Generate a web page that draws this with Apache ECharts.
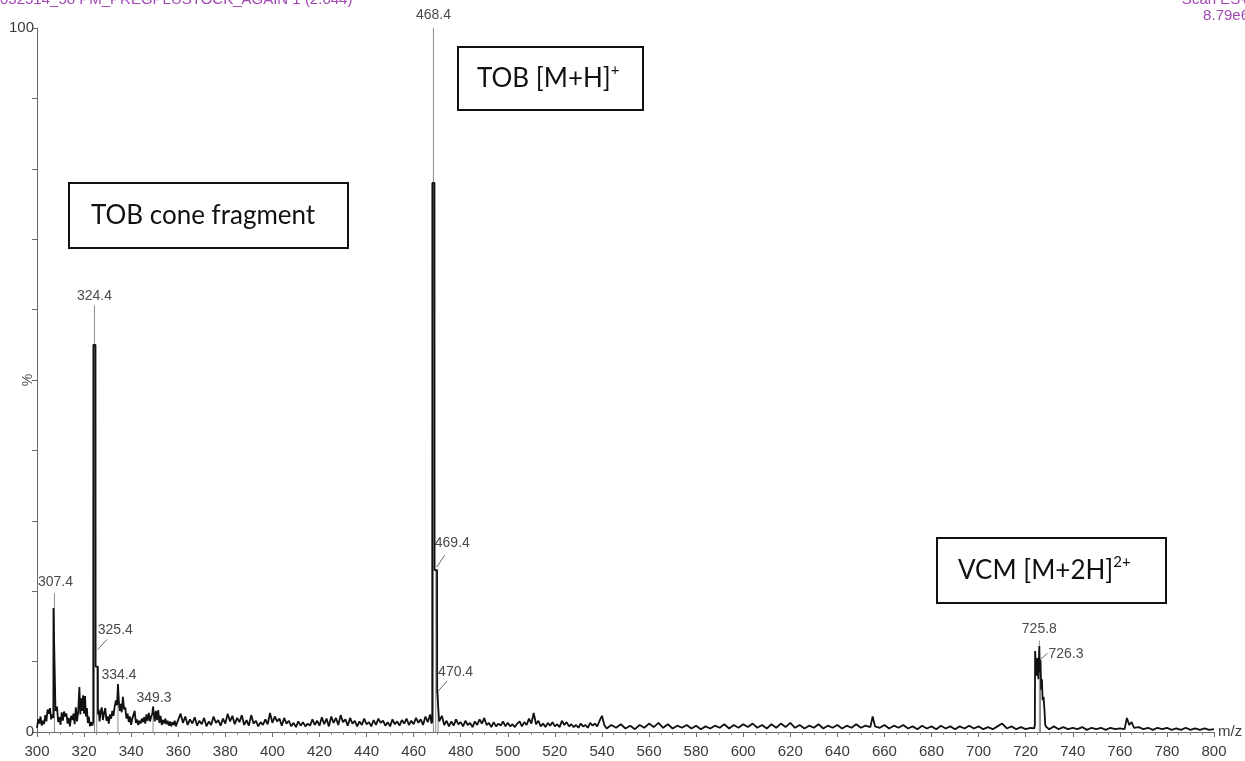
<!DOCTYPE html>
<html>
<head>
<meta charset="utf-8">
<title>ES+ mass spectrum</title>
<script src="https://cdn.jsdelivr.net/npm/echarts@6/dist/echarts.min.js"></script>
<style>
  html, body { margin: 0; padding: 0; background: #ffffff; }
  #chart { width: 1245px; height: 761px; }
</style>
</head>
<body>
<div id="chart"></div>
<script>
// ---- Spectrum profile, m/z vs relative intensity (%) ----
const lowMassProfile = [
  [300.0,0.6],[300.5,1.8],[301.0,1.2],[301.5,2.2],[302.0,0.9],[302.5,1.6],[303.0,1.1],[303.5,2.4],
  [304.0,1.5],[304.5,3.2],[305.0,2.6],[305.5,3.4],[306.0,1.8],[306.5,2.5],[306.95,2.0],[307.0,17.6],
  [307.8,17.6],[307.85,3.0],[308.5,3.6],[309.0,1.4],[309.5,2.1],[310.0,1.0],[310.5,2.8],[311.0,1.6],
  [311.5,2.9],[312.0,2.2],[312.5,2.6],[313.0,1.2],[313.5,2.0],[314.0,0.8],[314.5,2.3],[315.0,1.7],
  [315.5,2.6],[316.0,1.1],[316.5,3.5],[317.0,1.5],[317.5,2.9],[318.0,6.4],[318.4,2.5],[318.8,4.8],
  [319.2,3.0],[319.6,5.2],[320.0,2.6],[320.4,5.1],[320.8,2.2],[321.2,3.4],[321.6,1.3],[322.0,2.2],
  [322.5,0.8],[323.0,1.4],[323.5,0.9],[323.9,1.5],[323.95,55.0],[324.85,55.0],[324.9,9.3],[325.85,9.3],
  [325.9,2.5],[326.2,3.2],[326.6,1.5],[327.0,2.8],[327.5,3.5],[328.0,1.7],[328.5,2.7],[329.0,3.4],
  [329.5,1.6],[330.0,2.2],[330.5,1.2],[331.0,2.5],[331.5,1.9],[332.0,3.0],[332.5,2.3],[333.0,3.6],
  [333.5,4.5],[334.0,3.8],[334.4,6.8],[334.8,4.2],[335.2,3.0],[335.6,4.0],[336.0,2.8],[336.5,5.0],
  [337.0,3.2],[337.5,3.5],[338.0,1.9],[338.5,2.6],[339.0,1.4],[339.5,2.2],[340.0,1.0],[340.5,1.9],
  [341.0,2.0],[341.5,3.0],[342.0,1.3],[342.5,1.8],[343.0,1.0],[343.5,1.6],[344.0,1.2],[344.5,1.9],
  [345.0,1.4],[345.5,2.1],[346.0,1.2],[346.5,2.5],[347.0,1.6],[347.5,2.7],[348.0,1.5],[348.5,2.2],
  [349.0,2.6],[349.3,3.6],[349.7,2.4],[350.0,1.5],[350.5,3.0],[351.0,1.7],[351.5,3.1],[352.0,1.3],
  [352.5,2.3],[353.0,1.0],[353.5,1.7],[354.0,1.2],[354.5,1.9],[355.0,1.1],[355.5,1.6],[356.0,0.9],
  [356.5,1.5],[357.0,0.8],[357.5,1.4],[358.0,1.0],[358.5,1.6],[359.0,0.8],[359.5,1.3]
];

const midMassProfile = [
  [360,1.1],[361,2.6],[362,1.3],[363,2.2],[364,1.0],[365,1.8],[366,1.2],[367,2.1],[368,0.9],[369,1.6],
  [370,1.1],[371,2.0],[372,0.8],[373,1.5],[374,1.0],[375,2.2],[376,1.3],[377,1.7],[378,0.9],[379,1.9],
  [380,1.2],[381,2.6],[382,1.5],[383,2.3],[384,1.1],[385,2.0],[386,1.4],[387,2.4],[388,1.0],[389,1.7],
  [390,0.9],[391,2.4],[392,1.2],[393,1.6],[394,0.8],[395,1.4],[396,1.0],[397,1.8],[398,1.1],[399,2.7],
  [400,1.3],[401,2.2],[402,1.5],[403,1.9],[404,0.9],[405,2.0],[406,1.2],[407,1.6],[408,0.8],[409,1.3],
  [410,0.7],[411,1.5],[412,0.9],[413,1.4],[414,0.8],[415,1.2],[416,0.9],[417,1.8],[418,1.0],[419,1.6],
  [420,0.9],[421,2.1],[422,1.1],[423,1.9],[424,0.8],[425,2.2],[426,1.3],[427,2.0],[428,1.0],[429,2.4],
  [430,1.4],[431,1.8],[432,0.9],[433,2.0],[434,1.2],[435,1.6],[436,0.8],[437,1.5],[438,1.0],[439,1.9],
  [440,1.1],[441,1.4],[442,0.8],[443,1.7],[444,1.0],[445,1.9],[446,1.3],[447,1.6],[448,0.9],[449,1.4],
  [450,0.8],[451,1.8],[452,1.1],[453,1.5],[454,0.9],[455,1.7],[456,1.2],[457,1.9],[458,1.0],[459,1.6],
  [460,1.1],[461,2.0],[462,1.3],[463,1.8],[464,1.0],[465,2.2],[466,1.4],[467,2.5],[467.6,1.2]
];

const tobProfile = [
  [467.9,1.5],[467.95,78.0],[468.85,78.0],[468.9,23.0],[469.95,23.0],[470.0,5.8],[470.8,5.8],[470.85,1.5]
];

const upperMassProfile = [
  [471,1.5],[472,2.3],[473,1.0],[474,1.6],[475,0.8],[476,1.5],[477,0.9],[478,1.8],[479,1.1],[480,1.4],
  [481,0.8],[482,1.6],[483,1.0],[484,1.3],[485,0.7],[486,1.5],[487,1.0],[488,1.8],[489,1.2],[490,2.0],
  [491,1.0],[492,1.3],[493,0.7],[494,1.4],[495,0.8],[496,1.2],[497,0.9],[498,1.5],[499,0.8],[500,1.3],
  [501,0.8],[502,1.1],[503,0.7],[504,1.2],[505,1.5],[506,0.8],[507,1.4],[508,1.0],[509,1.9],[510,1.2],
  [511,2.7],[512,1.1],[513,1.6],[514,0.8],[515,1.2],[516,0.7],[517,1.3],[518,0.9],[519,1.4],[520,0.8],
  [521,1.1],[522,0.7],[523,1.6],[524,1.0],[525,1.4],[526,0.8],[527,1.1],[528,0.7],[529,1.0],[530,0.6],
  [531,1.2],[532,0.8],[533,1.0],[534,0.6],[535,1.3],[536,0.9],[537,1.2],[538,0.8],[539,1.6],[540,2.3],
  [541,1.0],[542,0.5],[544,1.0],[546,0.6],[548,1.1],[550,0.5],[552,0.9],[554,0.4],[556,1.0],[558,0.6],
  [560,1.2],[562,0.7],[564,1.3],[566,0.6],[568,1.1],[570,0.5],[572,0.9],[574,0.6],[576,1.0],[578,0.5],
  [580,0.9],[582,0.4],[584,0.8],[586,0.5],[588,0.9],[590,0.6],[592,1.1],[594,0.5],[596,1.0],[598,0.6],
  [600,1.1],[602,0.7],[604,1.2],[606,0.6],[608,1.0],[610,0.5],[612,1.1],[614,0.6],[616,1.2],[618,0.7],
  [620,1.3],[622,0.6],[624,1.0],[626,0.5],[628,0.9],[630,0.6],[632,1.1],[634,0.5],[636,0.9],[638,0.6],
  [640,1.0],[642,0.5],[644,0.9],[646,0.6],[648,1.1],[650,0.6],[652,0.9],[654,0.7],[655,2.2],[656,0.8],
  [658,0.6],[660,1.0],[662,0.5],[664,0.9],[666,0.6],[668,1.0],[670,0.5],[672,0.8],[674,0.4],[676,0.9],
  [678,0.5],[680,0.8],[682,0.4],[684,0.9],[686,0.5],[688,0.8],[690,0.4],[692,0.8],[694,0.5],[696,0.9],
  [698,0.5],[700,0.8],[702,0.4],[704,0.7],[706,0.4],[708,0.8],[710,1.2],[712,0.5],[714,0.8],[716,0.4],
  [718,0.7],[720,0.4],[722,0.6],[723.6,0.5]
];

const vcmProfile = [
  [723.9,1.0],[724.0,11.5],[724.6,8.0],[725.0,10.5],[725.4,7.5],[725.8,12.2],[726.0,8.5],[726.3,10.2],
  [726.6,6.0],[726.9,7.5],[727.2,4.5],[727.6,5.0],[728.0,3.0],[728.3,1.0],[728.8,0.7]
];

const highMassProfile = [
  [730,0.4],[732,0.8],[734,0.4],[736,0.7],[738,0.4],[740,0.6],[742,0.4],[744,0.7],[746,0.3],[748,0.6],
  [750,0.4],[752,0.6],[754,0.3],[756,0.6],[758,0.4],[760,0.5],[762,0.4],[763,2.0],[764,1.0],[765,1.4],
  [766,0.6],[768,0.7],[770,0.4],[772,0.6],[774,0.3],[776,0.6],[778,0.4],[780,0.6],[782,0.3],[784,0.5],
  [786,0.3],[788,0.6],[790,0.3],[792,0.5],[794,0.3],[796,0.5],[798,0.3],[800,0.4]
];

// ---- Labelled peaks ----
const peakMz        = [307.4, 324.4, 325.4, 334.4, 349.3, 468.4, 469.4, 470.4, 725.8, 726.3];
const peakIntensity = [19.7,  60.6,  9.3,   6.8,   3.6,   100,   23.0,  5.8,   13.0,  10.2];

// ---- Axis ticks ----
const mzTicks = [300, 320, 340, 360, 380, 400, 420, 440, 460, 480, 500, 520, 540, 560, 580,
                 600, 620, 640, 660, 680, 700, 720, 740, 760, 780, 800];
const intensityTickLabels = ['0', '100'];

// ---- Annotation boxes ----
const annotations = [
  { main: 'TOB [M+H]', sup: '+' },
  { main: 'TOB cone fragment', sup: '' },
  { main: 'VCM [M+2H]', sup: '2+' }
];

// Placement of each peak label relative to the top of its stick (px)
const labelPlacement = {
  '307.4': { dx: 1,   dy: -11, align: 'center' },
  '324.4': { dx: 0,   dy: -9,  align: 'center' },
  '325.4': { dx: 1,   dy: -36, align: 'left', leader: [1, -17, 10, -27] },
  '334.4': { dx: 1,   dy: -9,  align: 'center' },
  '349.3': { dx: 1,   dy: -9,  align: 'center' },
  '468.4': { dx: 0,   dy: -13, align: 'center' },
  '469.4': { dx: -1,  dy: -27, align: 'left', leader: [1, -3, 9, -15] },
  '470.4': { dx: 0,   dy: -19, align: 'left', leader: [0, 0, 9, -10] },
  '725.8': { dx: 0,   dy: -11, align: 'center' },
  '726.3': { dx: 8,   dy: -6,  align: 'left', leader: [-1, 0, 7, -7] }
};

// Annotation box geometry (px)
const boxLayout = [
  { x: 458, y: 47,  w: 185, h: 63, tx: 19 },
  { x: 69,  y: 183, w: 279, h: 65, tx: 22 },
  { x: 937, y: 538, w: 229, h: 65, tx: 21 }
];

const profile = [].concat(lowMassProfile, midMassProfile, tobProfile,
                          upperMassProfile, vcmProfile, highMassProfile);
const peakData = peakMz.map((m, i) => [m, peakIntensity[i], i]);

const chart = echarts.init(document.getElementById('chart'), null, { renderer: 'canvas' });

const tickFont = "'Liberation Sans', Arial, sans-serif";
const boxFont = "Lato, 'Open Sans', sans-serif";
const headerFont = "15px 'Liberation Sans', Arial, sans-serif";

const graphics = [
  {
    type: 'text', left: 0, top: -8, silent: true,
    style: { text: '032514_58 PM_PREGPLUSTOCK_AGAIN 1 (2.044)', fill: '#a248b4', font: headerFont }
  },
  {
    type: 'text', right: -4, top: -8, silent: true,
    style: { text: 'Scan ES+', fill: '#a248b4', font: headerFont }
  },
  {
    type: 'text', right: -4, top: 8, silent: true,
    style: { text: '8.79e6', fill: '#a248b4', font: headerFont }
  }
];

annotations.forEach((a, i) => {
  const b = boxLayout[i];
  graphics.push({
    type: 'rect', silent: true, z: 10,
    shape: { x: b.x, y: b.y, width: b.w, height: b.h },
    style: { fill: '#ffffff', stroke: '#111111', lineWidth: 2 }
  });
  graphics.push({
    type: 'text', silent: true, z: 11,
    x: b.x + b.tx, y: b.y + b.h / 2,
    style: {
      text: '{m|' + a.main + '}' + (a.sup ? '{s|' + a.sup + '}' : ''),
      verticalAlign: 'middle',
      rich: {
        m: { fontFamily: boxFont, fontSize: 26, fill: '#111111', lineHeight: 32 },
        s: { fontFamily: boxFont, fontSize: 15, fill: '#111111', lineHeight: 15, verticalAlign: 'top' }
      }
    }
  });
});

const option = {
  animation: false,
  backgroundColor: '#ffffff',
  grid: { left: 37, right: 31, top: 28, bottom: 29, containLabel: false, outerBoundsMode: 'none' },
  xAxis: {
    type: 'value', min: 300, max: 800, interval: 20,
    name: 'm/z', nameLocation: 'end', nameGap: 4,
    nameTextStyle: { color: '#404040', fontFamily: tickFont, fontSize: 15, verticalAlign: 'middle' },
    axisLine: { show: true, lineStyle: { color: '#6a6a6a', width: 1 } },
    axisTick: { show: true, length: 5, lineStyle: { color: '#6a6a6a' } },
    minorTick: { show: true, splitNumber: 4, length: 3, lineStyle: { color: '#8a8a8a' } },
    splitLine: { show: false },
    axisLabel: {
      color: '#3a3a3a', fontFamily: tickFont, fontSize: 15, margin: 12,
      formatter: v => (mzTicks.indexOf(v) >= 0 ? String(v) : '')
    }
  },
  yAxis: {
    type: 'value', min: 0, max: 100, interval: 10,
    name: '%', nameLocation: 'middle', nameGap: 2, nameRotate: 90, nameMoveOverlap: false,
    nameTextStyle: { color: '#555555', fontFamily: tickFont, fontSize: 14 },
    axisLine: { show: true, lineStyle: { color: '#6a6a6a', width: 1 } },
    axisTick: { show: true, length: 5, lineStyle: { color: '#6a6a6a' } },
    splitLine: { show: false },
    axisLabel: {
      color: '#3a3a3a', fontFamily: tickFont, fontSize: 15, margin: 3,
      formatter: v => (v === 0 ? intensityTickLabels[0] : v === 100 ? intensityTickLabels[1] : '')
    }
  },
  series: [
    {
      name: 'peaks', type: 'custom', data: peakData, z: 2, clip: false,
      renderItem: function (params, api) {
        const mz = api.value(0), h = api.value(1);
        const top = api.coord([mz, h]);
        const base = api.coord([mz, 0]);
        const text = mz.toFixed(1);
        const p = labelPlacement[text];
        const children = [
          {
            type: 'line',
            shape: { x1: top[0], y1: base[1], x2: top[0], y2: top[1] },
            style: { stroke: '#8c8c8c', lineWidth: 1 }
          },
          {
            type: 'text',
            x: top[0] + p.dx, y: top[1] + p.dy,
            style: {
              text: text, align: p.align, verticalAlign: 'middle',
              fill: '#4a4a4a', font: "14px " + tickFont
            }
          }
        ];
        if (p.leader) {
          children.push({
            type: 'line',
            shape: { x1: top[0] + p.leader[0], y1: top[1] + p.leader[1],
                     x2: top[0] + p.leader[2], y2: top[1] + p.leader[3] },
            style: { stroke: '#6a6a6a', lineWidth: 1 }
          });
        }
        return { type: 'group', children: children };
      }
    },
    {
      name: 'profile', type: 'line', data: profile,
      showSymbol: false, symbol: 'none', sampling: null, clip: true,
      lineStyle: { color: '#111111', width: 1.8 }, z: 3
    }
  ],
  graphic: graphics
};

chart.setOption(option);
</script>
</body>
</html>
